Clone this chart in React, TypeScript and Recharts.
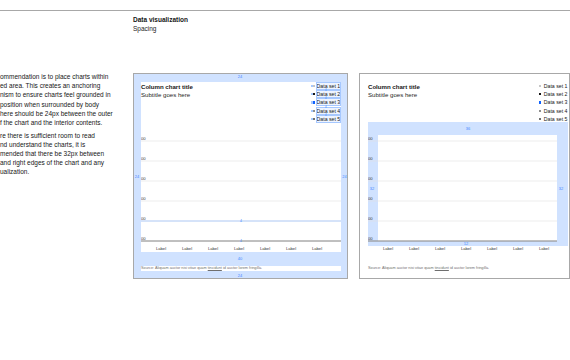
import React from 'react';
import { BarChart, Bar, XAxis, YAxis, CartesianGrid, Legend, ReferenceLine } from 'recharts';

// chart values (empty column charts in the spec, every series sits at zero)
const categories = ['Label', 'Label', 'Label', 'Label', 'Label', 'Label', 'Label'];
const dataSet1 = [0, 0, 0, 0, 0, 0, 0];
const dataSet2 = [0, 0, 0, 0, 0, 0, 0];
const dataSet3 = [0, 0, 0, 0, 0, 0, 0];
const dataSet4 = [0, 0, 0, 0, 0, 0, 0];
const dataSet5 = [0, 0, 0, 0, 0, 0, 0];
const seriesNames = ['Data set 1', 'Data set 2', 'Data set 3', 'Data set 4', 'Data set 5'];
const seriesColors = ['#c6c6c6', '#161616', '#0f62fe', '#8d8d8d', '#6f6f6f'];
const yTicks = [0, 1, 2, 3, 4, 5];
const yTickLabels = ['00', '00', '00', '00', '00', '00'];

const rows = categories.map((label, i) => ({
  label,
  ds1: dataSet1[i],
  ds2: dataSet2[i],
  ds3: dataSet3[i],
  ds4: dataSet4[i],
  ds5: dataSet5[i],
}));

const FONT = '"Liberation Sans", Arial, sans-serif';
const BLUE_BG = '#d0e2ff';
const NOTE = '#4589ff';

const paragraphOne = [
  'ommendation is to place charts within',
  'ed area. This creates an anchoring',
  'nism to ensure charts feel grounded in',
  'position when surrounded by body',
  'here should be 24px between the outer',
  'f the chart and the interior contents.',
];
const paragraphTwo = [
  're there is sufficient room to read',
  'nd understand the charts, it is',
  'mended that there be 32px between',
  'and right edges of the chart and any',
  'ualization.',
];

function YTick(props: any) {
  const { y, index } = props;
  return (
    <text x={0} y={y - 1.3} fontSize={4.2} fill="#393939" textAnchor="start" fontFamily={FONT}>
      {yTickLabels[index] ?? '00'}
    </text>
  );
}

function XTick(props: any) {
  const { x, y, payload } = props;
  return (
    <text x={x} y={y + 9.3} fontSize={4.2} fill="#393939" textAnchor="middle" fontFamily={FONT}>
      {payload.value}
    </text>
  );
}

function LegendList({ payload, annotated }: any) {
  const items = payload || [];
  return (
    <div style={{ position: 'relative', fontFamily: FONT }}>
      {items.map((item: any) => (
        <div
          key={item.value}
          style={{ display: 'flex', alignItems: 'center', height: 8.4, whiteSpace: 'nowrap' }}
        >
          {annotated && <span style={{ width: 2, height: 2.4, background: '#a6c8ff' }} />}
          <span style={{ width: 2.4, height: 2.4, background: item.color, marginRight: annotated ? 1.2 : 2.4 }} />
          <span
            style={{
              fontSize: 5.2,
              lineHeight: '6px',
              color: '#161616',
              background: annotated ? '#eef4ff' : undefined,
              outline: annotated ? '0.5px solid #a6c8ff' : undefined,
            }}
          >
            {item.value}
          </span>
        </div>
      ))}
      {annotated &&
        items.slice(1).map((_: any, i: number) => (
          <div
            key={i}
            style={{ position: 'absolute', left: 14, top: 8.4 * (i + 1) - 2.2, fontSize: 3, lineHeight: '4px', color: NOTE }}
          >
            4
          </div>
        ))}
    </div>
  );
}

function Note({ x, y, t }: { x: number; y: number; t: string }) {
  return (
    <div
      style={{
        position: 'absolute',
        left: x - 10,
        top: y - 3,
        width: 20,
        textAlign: 'center',
        fontSize: 4,
        lineHeight: '6px',
        color: NOTE,
      }}
    >
      {t}
    </div>
  );
}

function Source() {
  return (
    <span>
      Source: Aliquam auctor nisi vitae quam <span style={{ textDecoration: 'underline' }}>tincidunt</span> id auctor
      lorem fringilla.
    </span>
  );
}

function SpacingChart({ annotated, rightPad }: { annotated: boolean; rightPad: number }) {
  return (
    <BarChart
      width={200}
      height={170}
      data={rows}
      margin={{ top: 59, right: rightPad, bottom: 0, left: -1 }}
    >
      <CartesianGrid vertical={false} stroke="#e0e0e0" strokeWidth={0.6} />
      <XAxis
        dataKey="label"
        axisLine={{ stroke: '#6f6f6f', strokeWidth: 0.8 }}
        tickLine={false}
        tickSize={0}
        tickMargin={0}
        height={11}
        interval={0}
        padding={{ left: 7, right: annotated ? 11 : 0 }}
        tick={<XTick />}
      />
      <YAxis
        domain={[0, 5]}
        ticks={yTicks}
        interval={0}
        width={1}
        axisLine={false}
        tickLine={false}
        tick={<YTick />}
      />
      {annotated && (
        <ReferenceLine
          y={1}
          stroke="#a6c8ff"
          strokeWidth={0.8}
          label={{ value: '4', position: 'center', fill: NOTE, fontSize: 3.5 }}
        />
      )}
      {annotated && (
        <ReferenceLine
          y={0}
          stroke="none"
          label={{ value: '4', position: 'center', fill: NOTE, fontSize: 3.5 }}
        />
      )}
      {seriesNames.map((name, i) => (
        <Bar
          key={name}
          dataKey={`ds${i + 1}`}
          name={name}
          fill={seriesColors[i]}
          isAnimationActive={false}
        />
      ))}
      <Legend
        layout="vertical"
        align="center"
        verticalAlign="middle"
        wrapperStyle={{ left: annotated ? 170 : 171, top: -0.5, width: 30 }}
        content={(p: any) => <LegendList {...p} annotated={annotated} />}
      />
    </BarChart>
  );
}

function Titles() {
  return (
    <>
      <div style={{ position: 'absolute', left: 0, top: 0.5, fontSize: 6.1, fontWeight: 700, lineHeight: '7px', color: '#161616' }}>
        Column chart title
      </div>
      <div style={{ position: 'absolute', left: 0, top: 8.5, fontSize: 6.1, lineHeight: '7px', color: '#262626' }}>
        Subtitle goes here
      </div>
    </>
  );
}

export default function App() {
  return (
    <div
      style={{
        position: 'absolute',
        left: 0,
        top: 0,
        width: 570,
        height: 360,
        overflow: 'hidden',
        background: '#fff',
        fontFamily: FONT,
        color: '#161616',
      }}
    >
      <div style={{ position: 'absolute', left: 0, top: 10, width: 570, height: 1, background: '#a8a8a8' }} />
      <div style={{ position: 'absolute', left: 133, top: 15.5, fontSize: 6.5, fontWeight: 700, lineHeight: '8px' }}>
        Data visualization
      </div>
      <div style={{ position: 'absolute', left: 133, top: 24.5, fontSize: 6.5, lineHeight: '8px', color: '#262626' }}>
        Spacing
      </div>

      <div style={{ position: 'absolute', left: 0, top: 72, fontSize: 6.5, lineHeight: '9.2px', whiteSpace: 'nowrap' }}>
        {paragraphOne.map((l, i) => (
          <div key={i}>{l}</div>
        ))}
      </div>
      <div style={{ position: 'absolute', left: 0, top: 131, fontSize: 6.5, lineHeight: '9.1px', whiteSpace: 'nowrap' }}>
        {paragraphTwo.map((l, i) => (
          <div key={i}>{l}</div>
        ))}
      </div>

      {/* left card: 24px padding spec */}
      <div
        style={{
          position: 'absolute',
          left: 133,
          top: 73,
          width: 215,
          height: 206,
          boxSizing: 'border-box',
          border: '1px solid #a8a8a8',
          background: BLUE_BG,
        }}
      />
      <div style={{ position: 'absolute', left: 141, top: 82, width: 200, height: 170, background: '#fff' }}>
        <SpacingChart annotated rightPad={0} />
        <Titles />
      </div>
      <div
        style={{
          position: 'absolute',
          left: 141,
          top: 265.5,
          width: 200,
          height: 5.5,
          background: '#fff',
          fontSize: 3.8,
          lineHeight: '5.5px',
          color: '#6f6f6f',
          whiteSpace: 'nowrap',
        }}
      >
        <Source />
      </div>
      <Note x={240} y={77} t="24" />
      <Note x={137} y={177} t="24" />
      <Note x={344.5} y={177} t="24" />
      <Note x={240} y={259} t="40" />
      <Note x={240} y={275.5} t="24" />

      {/* right card: 32px plot spacing spec */}
      <div
        style={{
          position: 'absolute',
          left: 359,
          top: 73,
          width: 211,
          height: 206,
          boxSizing: 'border-box',
          border: '1px solid #a8a8a8',
          background: '#fff',
        }}
      />
      <div style={{ position: 'absolute', left: 368, top: 122, width: 200, height: 124, background: BLUE_BG }} />
      <div style={{ position: 'absolute', left: 378, top: 135, width: 179, height: 106, background: '#fff' }} />
      <div style={{ position: 'absolute', left: 368, top: 82, width: 200, height: 170 }}>
        <SpacingChart annotated={false} rightPad={11} />
        <Titles />
      </div>
      <div
        style={{
          position: 'absolute',
          left: 368,
          top: 265.5,
          fontSize: 3.8,
          lineHeight: '5.5px',
          color: '#6f6f6f',
          whiteSpace: 'nowrap',
        }}
      >
        <Source />
      </div>
      <Note x={468} y={129} t="36" />
      <Note x={372} y={189} t="32" />
      <Note x={561} y={189} t="32" />
      <Note x={466} y={243.5} t="12" />
    </div>
  );
}
